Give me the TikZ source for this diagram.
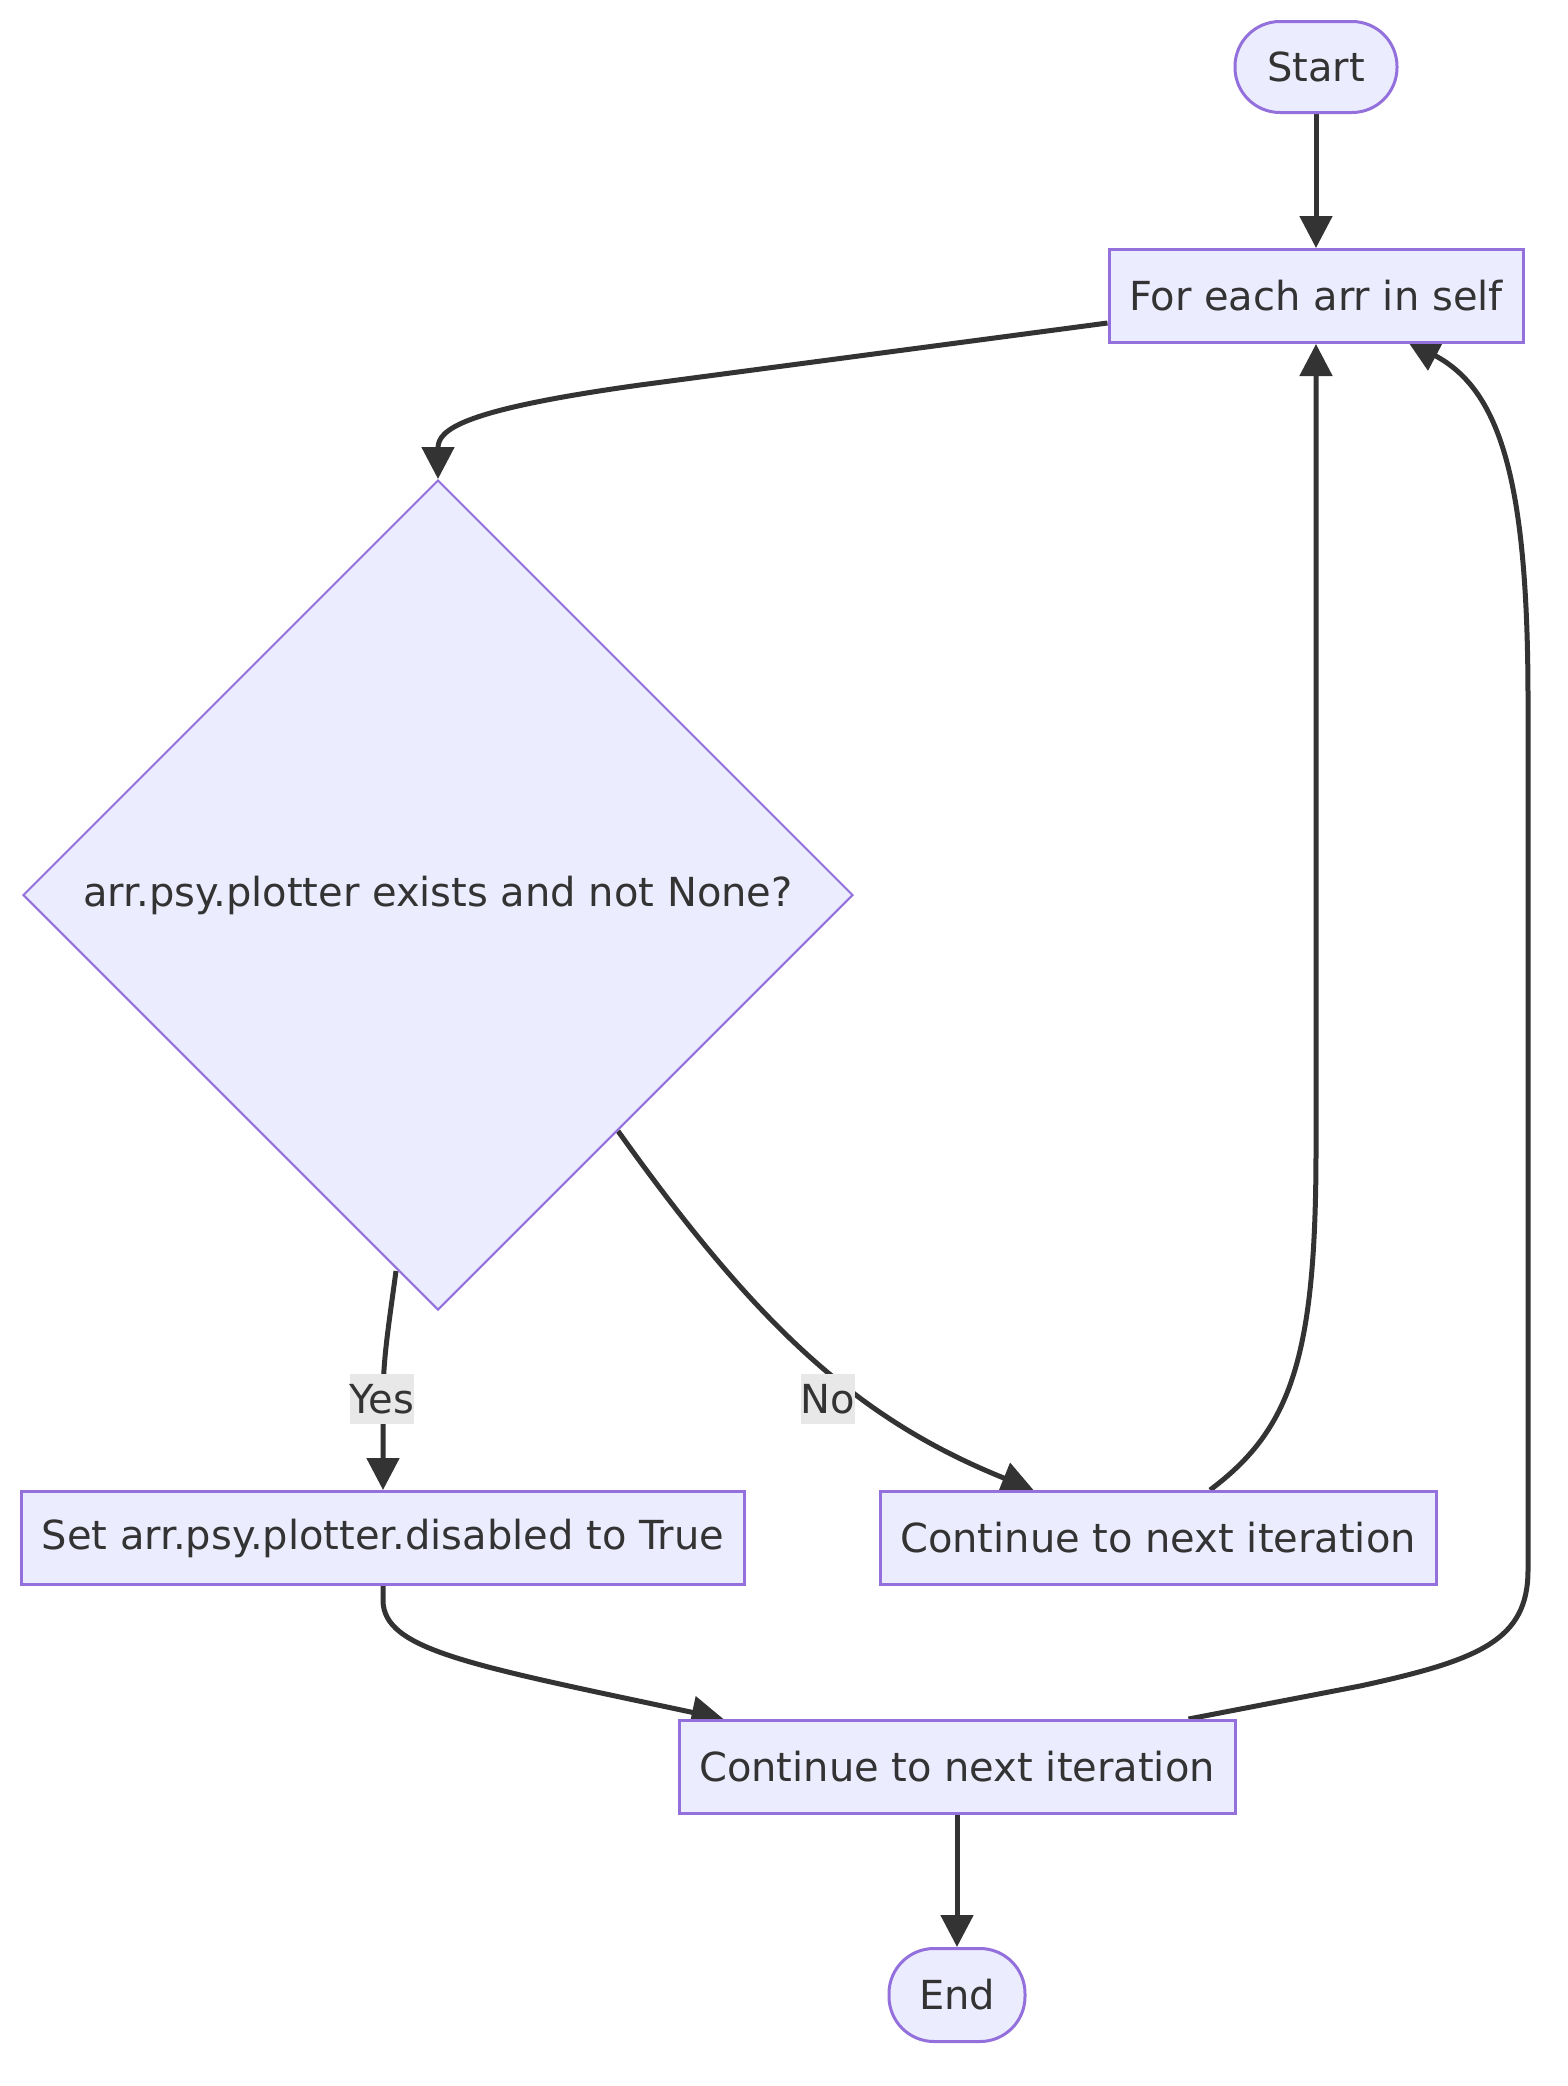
\documentclass[tikz,border=0pt]{standalone}
\usepackage{fontspec}
\setmainfont{DejaVu Sans}
\usetikzlibrary{shapes.geometric,arrows.meta,calc}
\pgfdeclarelayer{edgelayer}
\pgfsetlayers{edgelayer,main}
\definecolor{nodefill}{HTML}{ECECFF}
\definecolor{nodeline}{HTML}{9370DB}
\definecolor{edgecol}{HTML}{333333}
\definecolor{labelbg}{HTML}{E8E8E8}
\begin{document}
\begin{tikzpicture}[x=1pt,y=-1pt,
  every node/.style={font=\fontsize{40}{48}\selectfont, text=edgecol},
  procbox/.style={draw=nodeline, fill=nodefill, line width=3pt, minimum height=93pt, inner sep=0pt},
  termbox/.style={procbox, rounded corners=45pt},
  decbox/.style={draw=nodeline, fill=nodefill, line width=2pt, diamond, aspect=1, inner sep=0pt, minimum width=830pt, minimum height=830pt},
  edge/.style={draw=edgecol, line width=5pt, -{Triangle[length=32pt,width=32pt]}},
  elabel/.style={fill=labelbg, inner sep=0pt, minimum height=50pt}
]
\begin{pgfonlayer}{edgelayer}
\fill[white] (0,0) rectangle (1568,2086);
\end{pgfonlayer}
\useasboundingbox (0,0) rectangle (1568,2086);

\node[termbox, minimum width=162pt, minimum height=91pt] (start) at (1316,67) {Start};
\node[procbox, minimum width=414pt] (for) at (1316,296) {For each arr in self};
\node[decbox] (dec) at (438,895) {arr.psy.plotter exists and not None?};
\node[procbox, minimum width=723pt] (set) at (383,1538) {Set arr.psy.plotter.disabled to True};
\node[procbox, minimum width=556pt] (cont1) at (1158,1538) {Continue to next iteration};
\node[procbox, minimum width=556pt] (cont2) at (957,1767) {Continue to next iteration};
\node[termbox, minimum width=136pt] (end) at (957,1995) {End};

\begin{pgfonlayer}{edgelayer}
\draw[edge] (start) -- (for);
\draw[edge] ($(for.west)+(0,27)$) -- (640,385) .. controls (460,410) and (438,430) .. (dec.north);
\draw[edge] ($(dec.south)+(-42,-40)$) .. controls (388,1330) and (383,1360) .. (383,1400) -- (set.north);
\draw[edge] ($(dec.south)+(180,-180)$) .. controls (760,1330) and (860,1420) .. ($(cont1.north west)+(155,0)$);
\draw[edge] ($(cont1.north)+(52,0)$) .. controls (1290,1430) and (1316,1360) .. (1316,1150) -- (for.south);
\draw[edge] (set.south) -- (383,1600) .. controls (383,1650) and (470,1665) .. ($(cont2.north west)+(46,0)$);
\draw[edge] ($(cont2.north east)+(-48,0)$) -- (1360,1686) .. controls (1480,1660) and (1528,1640) .. (1528,1570) -- (1528,700) .. controls (1528,480) and (1500,390) .. ($(for.south east)+(-117,-3)$);
\draw[edge] (cont2) -- (end);
\end{pgfonlayer}

\node[elabel] (yes) at (382,1399) {Yes};
\node[elabel] (no) at (828,1399) {No};
\end{tikzpicture}
\end{document}
